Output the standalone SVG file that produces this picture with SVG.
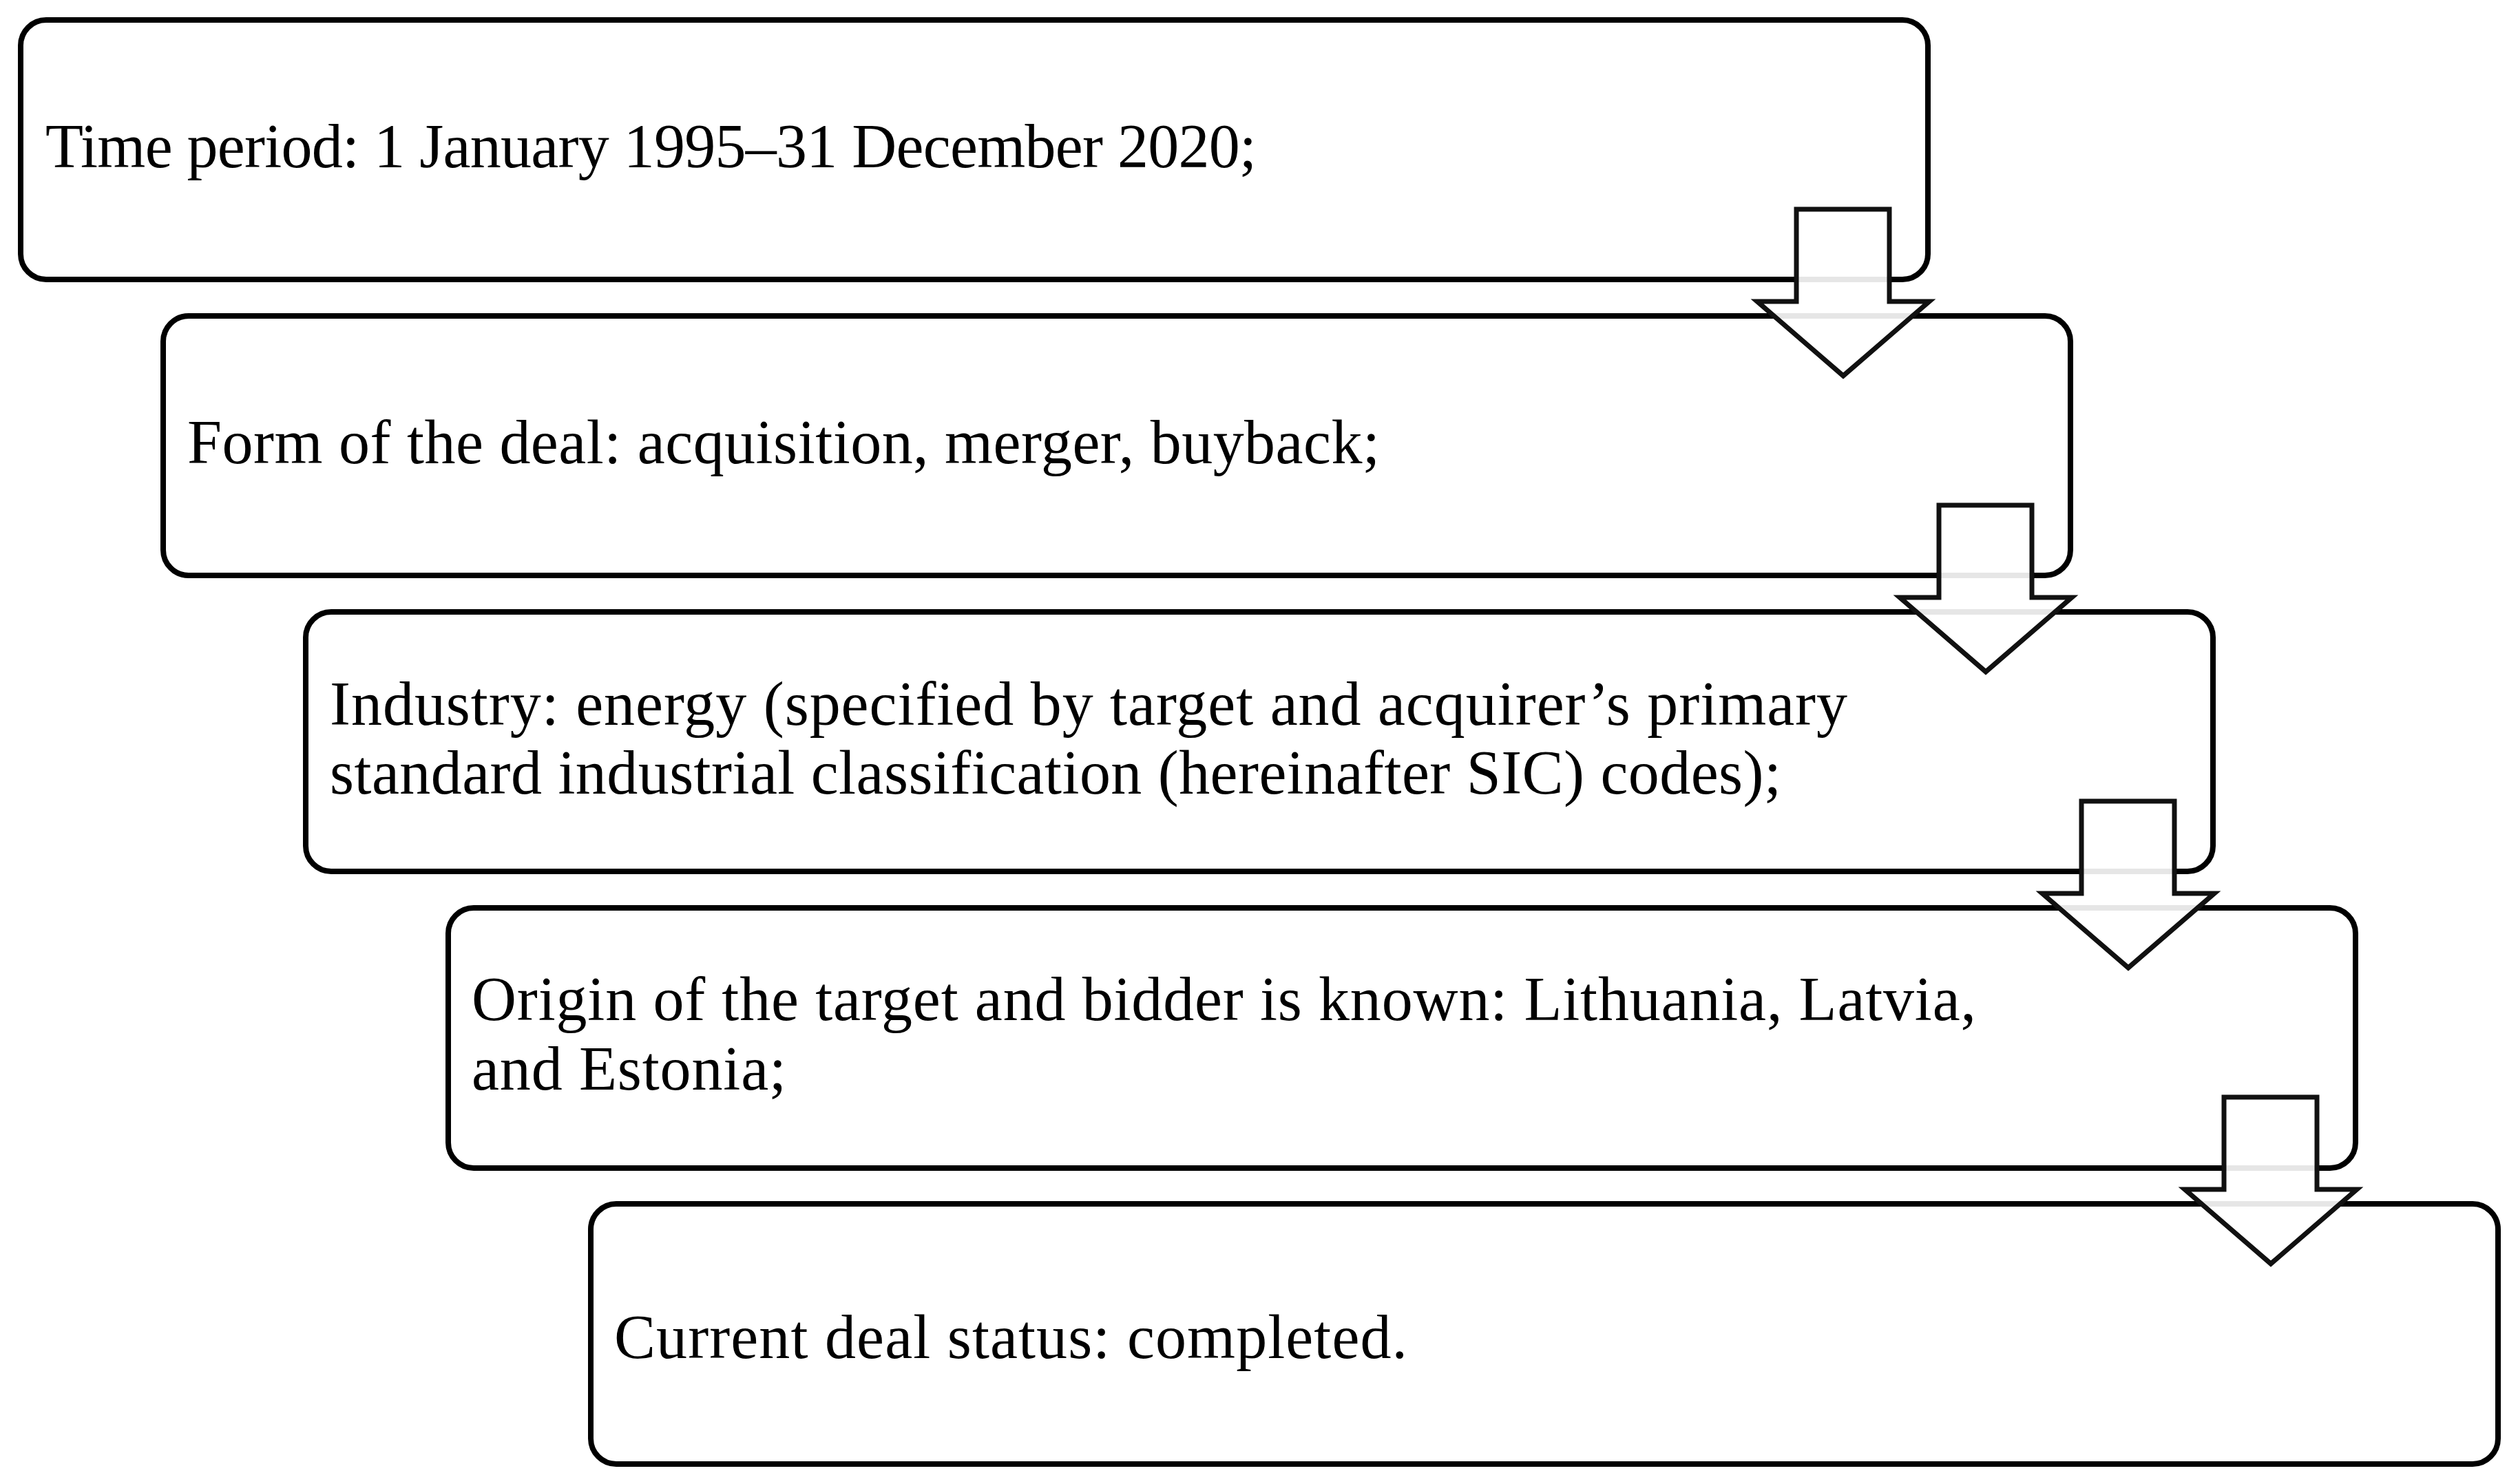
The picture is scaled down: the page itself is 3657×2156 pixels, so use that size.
<svg xmlns="http://www.w3.org/2000/svg" width="3657" height="2156" viewBox="0 0 3657 2156">
<style>
.box{fill:#fff;stroke:#000;stroke-width:8}
.t{font-family:"Liberation Serif","Times New Roman",serif;font-size:90px;fill:#000}
.arr{fill:#fff;fill-opacity:0.9;stroke:#111;stroke-width:7;stroke-linejoin:miter;stroke-miterlimit:10}
</style>
<defs>
<path id="arrow" d="M2609,304 H2744 V438 H2802 L2677,546 L2552,438 H2609 Z"/>
</defs>
<rect width="3657" height="2156" fill="#fff"/>
<g id="node1">
<rect class="box" x="30" y="29" width="2770" height="377" rx="37" ry="37"/>
<text class="t" x="66" y="243" textLength="1759" lengthAdjust="spacing">Time period: 1 January 1995–31 December 2020;</text>
</g>
<g id="node2">
<rect class="box" x="237" y="459" width="2770" height="377" rx="37" ry="37"/>
<text class="t" x="272" y="673" textLength="1732" lengthAdjust="spacing">Form of the deal: acquisition, merger, buyback;</text>
</g>
<g id="node3">
<rect class="box" x="444" y="889" width="2770" height="377" rx="37" ry="37"/>
<text class="t" x="479" y="1053" textLength="2204" lengthAdjust="spacing">Industry: energy (specified by target and acquirer’s primary</text>
<text class="t" x="479" y="1153" textLength="2108" lengthAdjust="spacing">standard industrial classification (hereinafter SIC) codes);</text>
</g>
<g id="node4">
<rect class="box" x="651" y="1319" width="2770" height="378" rx="37" ry="37"/>
<text class="t" x="685" y="1482" textLength="2185" lengthAdjust="spacing">Origin of the target and bidder is known: Lithuania, Latvia,</text>
<text class="t" x="685" y="1583" textLength="457" lengthAdjust="spacing">and Estonia;</text>
</g>
<g id="node5">
<rect class="box" x="858" y="1749" width="2770" height="378" rx="37" ry="37"/>
<text class="t" x="892" y="1973" textLength="1152" lengthAdjust="spacing">Current deal status: completed.</text>
</g>
<g id="connectors">
<use href="#arrow" class="arr"/>
<use href="#arrow" class="arr" transform="translate(207,430)"/>
<use href="#arrow" class="arr" transform="translate(414,860)"/>
<use href="#arrow" class="arr" transform="translate(621,1290)"/>
</g>
</svg>
